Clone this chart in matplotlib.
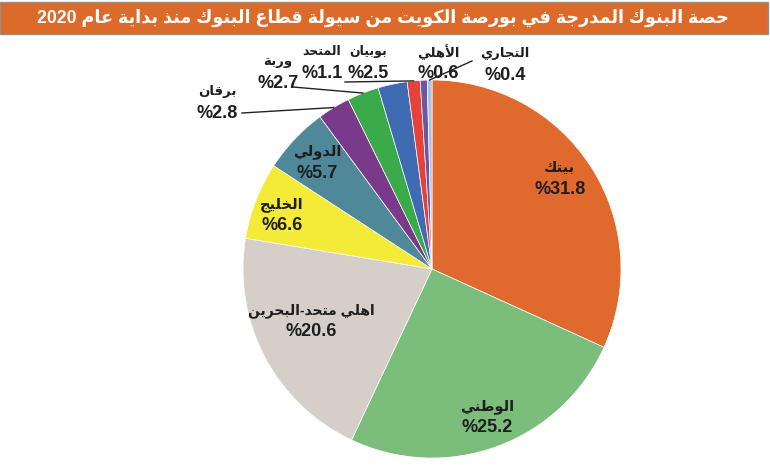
import re
import numpy as np
import matplotlib
matplotlib.use("Agg")
import matplotlib.pyplot as plt
from matplotlib.patches import Rectangle

# data
banks = ["بيتك", "الوطني", "اهلي متحد-البحرين", "الخليج", "الدولي", "برقان",
         "وربة", "بوبيان", "المتحد", "الأهلي", "التجاري"]
shares = [31.8, 25.2, 20.6, 6.6, 5.7, 2.8, 2.7, 2.5, 1.1, 0.6, 0.4]
colors = ["#E06A2E", "#7BBE7B", "#D6CFC9", "#F4EB38", "#4E8899", "#7A3A8C",
          "#3BAA4B", "#3F6BB2", "#E6423A", "#6A56A2", "#B0C0D8"]
title = "حصة البنوك المدرجة في بورصة الكويت من سيولة قطاع البنوك منذ بداية عام 2020"

# arabic presentation forms: isolated, final, initial, medial
FORMS = {
    'ا': (0xFE8D, 0xFE8E, None, None), 'أ': (0xFE83, 0xFE84, None, None),
    'ب': (0xFE8F, 0xFE90, 0xFE91, 0xFE92), 'ة': (0xFE93, 0xFE94, None, None),
    'ت': (0xFE95, 0xFE96, 0xFE97, 0xFE98), 'ج': (0xFE9D, 0xFE9E, 0xFE9F, 0xFEA0),
    'ح': (0xFEA1, 0xFEA2, 0xFEA3, 0xFEA4), 'خ': (0xFEA5, 0xFEA6, 0xFEA7, 0xFEA8),
    'د': (0xFEA9, 0xFEAA, None, None), 'ذ': (0xFEAB, 0xFEAC, None, None),
    'ر': (0xFEAD, 0xFEAE, None, None), 'س': (0xFEB1, 0xFEB2, 0xFEB3, 0xFEB4),
    'ص': (0xFEB9, 0xFEBA, 0xFEBB, 0xFEBC), 'ط': (0xFEC1, 0xFEC2, 0xFEC3, 0xFEC4),
    'ع': (0xFEC9, 0xFECA, 0xFECB, 0xFECC), 'ف': (0xFED1, 0xFED2, 0xFED3, 0xFED4),
    'ق': (0xFED5, 0xFED6, 0xFED7, 0xFED8), 'ك': (0xFED9, 0xFEDA, 0xFEDB, 0xFEDC),
    'ل': (0xFEDD, 0xFEDE, 0xFEDF, 0xFEE0), 'م': (0xFEE1, 0xFEE2, 0xFEE3, 0xFEE4),
    'ن': (0xFEE5, 0xFEE6, 0xFEE7, 0xFEE8), 'ه': (0xFEE9, 0xFEEA, 0xFEEB, 0xFEEC),
    'و': (0xFEED, 0xFEEE, None, None), 'ي': (0xFEF1, 0xFEF2, 0xFEF3, 0xFEF4),
    'ى': (0xFEEF, 0xFEF0, None, None),
}


def ar(text):
    out = []
    prev_joins = False
    i = 0
    while i < len(text):
        c = text[i]
        f = FORMS.get(c)
        nxt = text[i + 1] if i + 1 < len(text) else ''
        if f is None:
            out.append(c)
            prev_joins = False
            i += 1
            continue
        if c == 'ل' and nxt in ('ا', 'أ'):
            iso, fin = (0xFEFB, 0xFEFC) if nxt == 'ا' else (0xFEF7, 0xFEF8)
            out.append(chr(fin if prev_joins else iso))
            prev_joins = False
            i += 2
            continue
        next_ok = f[2] is not None and nxt in FORMS
        if prev_joins and next_ok:
            code = f[3]
        elif prev_joins:
            code = f[1]
        elif next_ok:
            code = f[2]
        else:
            code = f[0]
        out.append(chr(code))
        prev_joins = f[2] is not None
        i += 1
    vis = "".join(out)[::-1]
    return re.sub(r"[0-9.]+", lambda m: m.group(0)[::-1], vis)


FONT = ["Liberation Sans", "DejaVu Sans"]
plt.rcParams["font.family"] = FONT

W, H = 770, 466
CX, CY, R = 432, 269, 189

fig = plt.figure(figsize=(W / 100, H / 100), dpi=100)
fig.patch.set_facecolor("white")

# title bar
fig.patches.append(Rectangle((0, 1 - 34 / H), 768 / W, 32 / H, transform=fig.transFigure,
                             facecolor="#DC6A2B", edgecolor="#9A8F88", linewidth=1.0))
t = fig.text(383 / W, 1 - 18 / H, ar(title), color="white", fontsize=15, fontweight="bold",
             ha="center", va="center")
# shrink title to fit ~690 px
rend = fig.canvas.get_renderer()
tw = t.get_window_extent(rend).width
t.set_fontsize(15 * 690 / tw)

ax = fig.add_axes([0, 0, 1, 1])
wedges, _ = ax.pie(shares, colors=colors, startangle=90, counterclock=False, radius=1,
                   wedgeprops=dict(edgecolor="white", linewidth=0.5))
ax.set_xlim(-CX / R, (W - CX) / R)
ax.set_ylim(-(H - CY) / R, CY / R)
ax.set_aspect("equal")
ax.axis("off")


def px(x, y):
    return (x - CX) / R, (CY - y) / R


# label spots (pixel centre of the name line), name font size
spots = [(560, 168, 10.5), (487, 407, 10.5), (311, 311, 10), (282, 205, 10.5), (317, 152, 10.5),
         (217, 92, 9.5), (278, 62, 9.5), (368, 52, 9), (322, 52, 9), (438, 52, 9.5),
         (505, 54, 9.5)]

for name, val, (sx, sy, fs) in zip(banks, shares, spots):
    ax.text(*px(sx, sy), ar(name), fontsize=fs, fontweight="bold", color="#1E1E1E",
            ha="center", va="center")
    ax.text(*px(sx, sy + 21), f"%{val}", fontsize=13, fontweight="bold", color="#1E1E1E",
            ha="center", va="center")

# leader lines: start point in pixels -> middle of the wedge rim
leaders = {5: (242, 113), 6: (293, 87), 8: (345, 82), 10: (472, 61)}
for idx, (lx, ly) in leaders.items():
    w = wedges[idx]
    mid = np.deg2rad((w.theta1 + w.theta2) / 2)
    x0, y0 = px(lx, ly)
    ax.plot([x0, np.cos(mid)], [y0, np.sin(mid)], color="#222222", lw=1.0)

fig.savefig("out.png", dpi=100)
